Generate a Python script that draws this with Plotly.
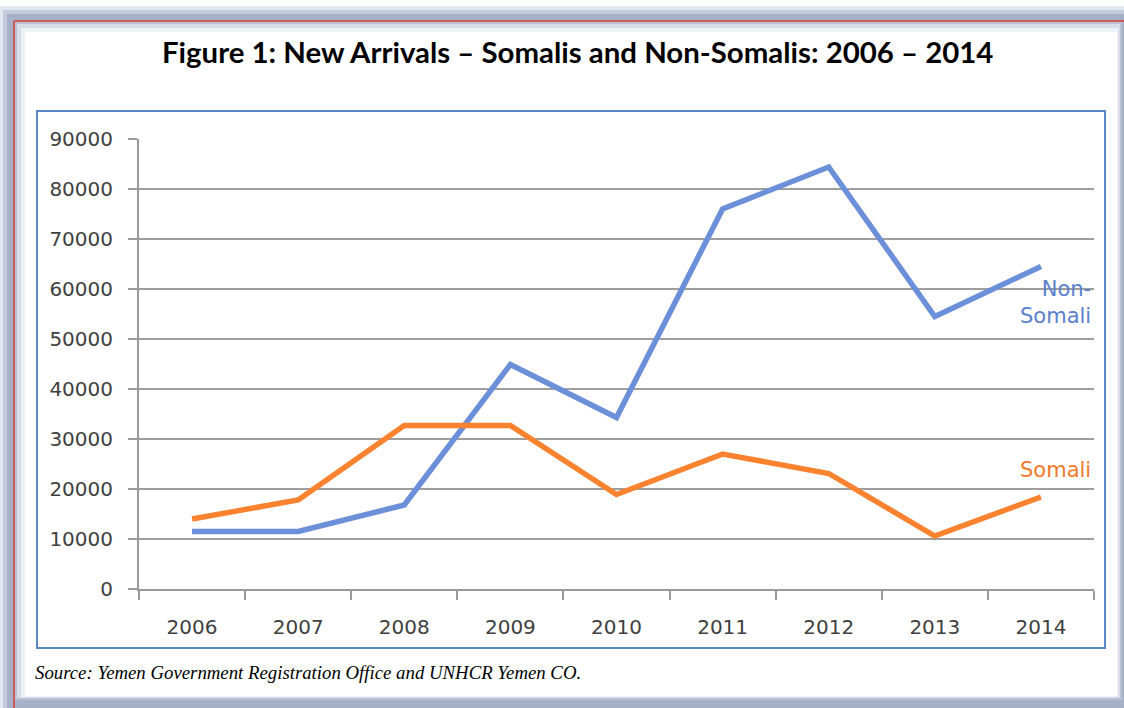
import plotly.graph_objects as go

years = ["2006", "2007", "2008", "2009", "2010", "2011", "2012", "2013", "2014"]
non_somali = [11500, 11500, 16800, 44900, 34300, 76000, 84400, 54500, 64500]
somali = [14000, 17800, 32700, 32700, 18900, 27000, 23100, 10600, 18400]
y_ticks = [0, 10000, 20000, 30000, 40000, 50000, 60000, 70000, 80000, 90000]

W, H = 1124, 708
L, R, T, B = 139, 30, 139, 119


def px(x):
    return (x - L) / (W - L - R)


def py(y):
    return (H - B - y) / (H - T - B)


def box(x0, y0, x1, y1, **kw):
    return dict(type="rect", xref="paper", yref="paper",
                x0=px(x0), x1=px(x1), y0=py(y1), y1=py(y0), layer="below", **kw)


fig = go.Figure()
fig.add_trace(go.Scatter(x=years, y=non_somali, mode="lines", name="Non-Somali",
                         line=dict(color="#6b8fd9", width=5.5)))
fig.add_trace(go.Scatter(x=years, y=somali, mode="lines", name="Somali",
                         line=dict(color="#fb832f", width=5.5)))

shapes = [
    # soft shadow frame
    box(0, 6, W, H, fillcolor="#e3e7ef", line_width=0),
    box(3, 10, W, H, fillcolor="#c3cadb", line_width=0),
    box(7, 14, W, H, fillcolor="#a6b1c8", line_width=0),
    box(14, 21, 1122, 700, fillcolor="#b9c2d5", line_width=0),
    box(17, 24, 1120, 698, fillcolor="#d8dde8", line_width=0),
    box(21, 28, 1118, 697, fillcolor="#eef1f6", line_width=0),
    box(25, 32, 1117, 696, fillcolor="#ffffff", line_width=0),
    dict(type="line", xref="paper", yref="paper", x0=px(14), x1=px(14), y0=py(H), y1=py(21),
         line=dict(color="#cc5b5b", width=2), layer="below"),
    dict(type="line", xref="paper", yref="paper", x0=px(14), x1=px(W), y0=py(21), y1=py(21),
         line=dict(color="#cc5b5b", width=2), layer="below"),
    # chart box
    box(37, 111, 1105, 648, fillcolor="#ffffff", line=dict(color="#5a87c5", width=2)),
]

fig.update_layout(
    width=W, height=H,
    margin=dict(l=L, r=R, t=T, b=B),
    paper_bgcolor="#ffffff", plot_bgcolor="rgba(0,0,0,0)",
    showlegend=False,
    shapes=shapes,
    font=dict(family="DejaVu Sans", color="#404040"),
    xaxis=dict(type="category", range=[-0.5, 8.5], tickson="boundaries", ticks="outside",
               ticklen=9, tickcolor="#9a9a9a", tickwidth=2, showline=True,
               linecolor="#9a9a9a", linewidth=2, showgrid=False,
               tickfont=dict(size=20, color="#404040"), ticklabelstandoff=19),
    yaxis=dict(range=[0, 90000], tickvals=y_ticks, tickformat="d", ticks="outside",
               ticklen=9, tickcolor="#9a9a9a", tickwidth=2, showline=True,
               linecolor="#9a9a9a", linewidth=2, gridcolor="#9e9e9e", gridwidth=2,
               zeroline=False, tickfont=dict(size=20, color="#404040"),
               ticklabelstandoff=11),
    annotations=[
        dict(text="<b>Figure 1: New Arrivals – Somalis and Non-Somalis: 2006 – 2014</b>",
             xref="paper", yref="paper", x=px(577), y=py(52), showarrow=False,
             xanchor="center", yanchor="middle",
             font=dict(family="Lato", size=29.4, color="#000000")),
        dict(text="Non-<br>Somali", xref="paper", yref="paper", x=px(1093), y=py(302),
             showarrow=False, xanchor="right", yanchor="middle", align="right",
             font=dict(size=21, color="#5a7fcc")),
        dict(text="Somali", xref="paper", yref="paper", x=px(1093), y=py(470),
             showarrow=False, xanchor="right", yanchor="middle",
             font=dict(size=21, color="#f07a2a")),
        dict(text="<i>Source: Yemen Government Registration Office and UNHCR Yemen CO.</i>",
             xref="paper", yref="paper", x=px(33), y=py(672), showarrow=False,
             xanchor="left", yanchor="middle",
             font=dict(family="Liberation Serif", size=18.8, color="#000000")),
    ],
)

fig.write_html("out.html", config={"displayModeBar": False},
               post_script="document.body.style.margin='0';")
